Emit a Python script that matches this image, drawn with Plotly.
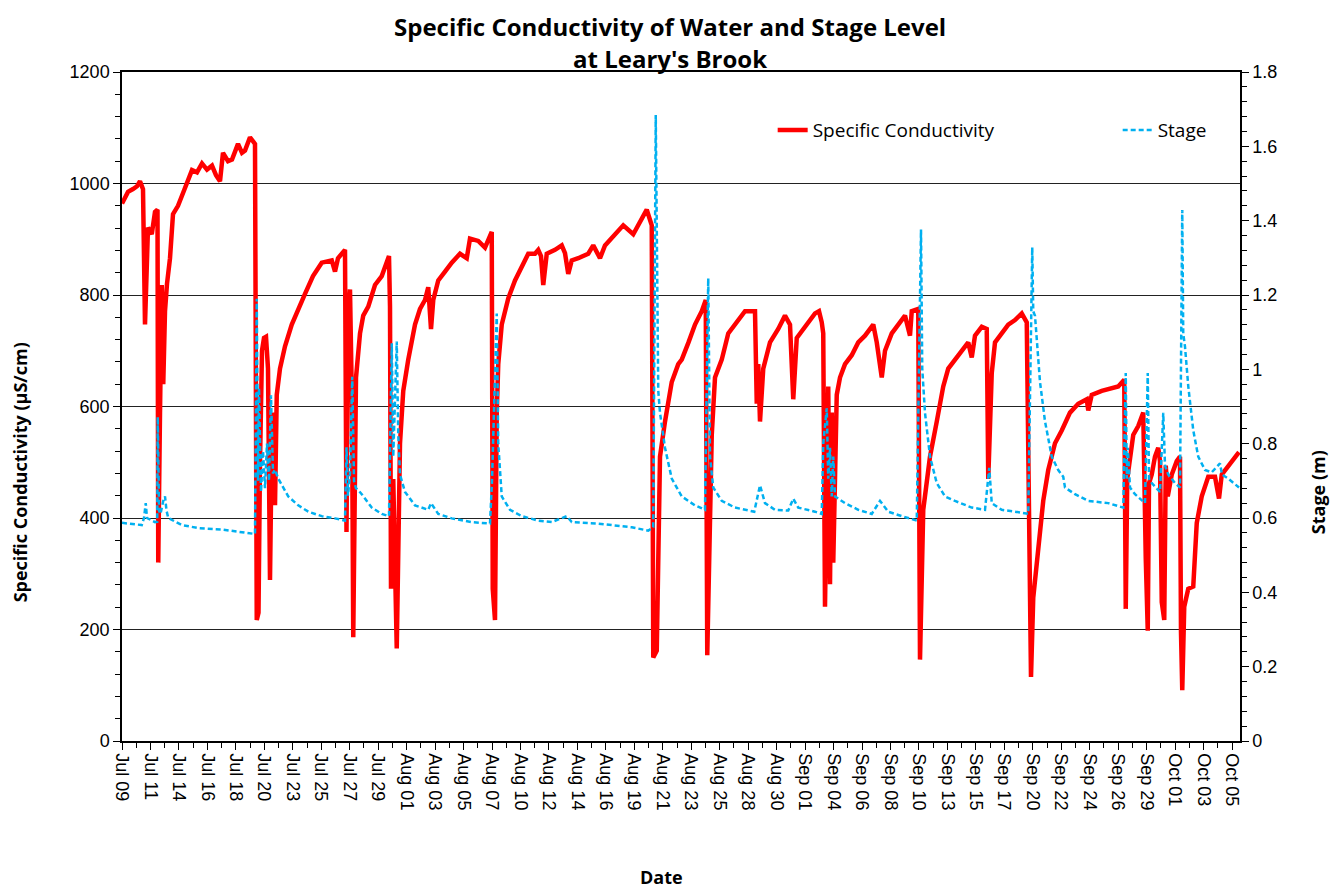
import plotly.graph_objects as go

# Time: elapsed days since Jul 09 00:00
TICK_LABELS = ["Jul 09", "Jul 11", "Jul 14", "Jul 16", "Jul 18", "Jul 20", "Jul 23", "Jul 25",
               "Jul 27", "Jul 29", "Aug 01", "Aug 03", "Aug 05", "Aug 07", "Aug 10", "Aug 12",
               "Aug 14", "Aug 16", "Aug 19", "Aug 21", "Aug 23", "Aug 25", "Aug 28", "Aug 30",
               "Sep 01", "Sep 04", "Sep 06", "Sep 08", "Sep 10", "Sep 13", "Sep 15", "Sep 17",
               "Sep 20", "Sep 22", "Sep 24", "Sep 26", "Sep 29", "Oct 01", "Oct 03", "Oct 05"]
TICK_START = 0.48
TICK_STEP = 2.277
X_END = 89.92

COND_T = [0.48, 0.96, 1.36, 1.68, 1.92, 2.16, 2.32, 2.56, 2.86, 3.12, 3.32, 3.38, 3.52, 3.66, 3.78,
          3.92, 4.08, 4.32, 4.56, 4.96, 5.52, 6.08, 6.48, 6.88, 7.28, 7.68, 8.0, 8.32, 8.56, 8.96,
          9.28, 9.76, 10.08, 10.32, 10.72, 11.12, 11.26, 11.4, 11.52, 11.68, 11.84, 12.0, 12.16,
          12.32, 12.46, 12.56, 12.72, 12.86, 13.12, 13.52, 14.06, 14.56, 15.12, 15.76, 16.46,
          17.26, 17.52, 17.76, 18.32, 18.44, 18.56, 18.72, 18.88, 18.98, 19.2, 19.52, 19.78,
          20.18, 20.72, 21.26, 21.66, 21.84, 21.92, 22.0, 22.18, 22.46, 22.72, 22.98, 23.38,
          23.92, 24.32, 24.72, 24.98, 25.2, 25.38, 25.78, 26.32, 26.86, 27.52, 28.06, 28.32,
          28.98, 29.52, 30.06, 30.14, 30.32, 30.46, 30.58, 30.86, 31.38, 31.92, 32.46, 32.98,
          33.52, 33.78, 34.0, 34.18, 34.46, 35.12, 35.66, 35.92, 36.18, 36.46, 36.98, 37.78,
          38.18, 38.72, 39.12, 39.78, 40.58, 41.38, 42.06, 42.46, 42.86, 42.98, 43.26, 43.52,
          43.92, 44.46, 44.98, 45.26, 45.8, 46.32, 46.86, 47.18, 47.3, 47.66, 47.92, 48.46,
          48.98, 49.52, 50.32, 51.12, 51.26, 51.38, 51.52, 51.78, 52.32, 52.98, 53.52, 53.92,
          54.04, 54.18, 54.46, 54.86, 55.38, 55.92, 56.24, 56.46, 56.58, 56.72, 56.98, 57.12,
          57.26, 57.38, 57.66, 57.92, 58.32, 58.86, 59.38, 59.92, 60.58, 60.86, 61.26, 61.52,
          62.06, 62.58, 63.12, 63.52, 63.66, 64.18, 64.32, 64.58, 65.12, 65.66, 66.18, 66.58,
          67.12, 67.66, 68.18, 68.46, 68.72, 69.26, 69.66, 69.78, 70.06, 70.32, 70.86, 71.38,
          71.92, 72.46, 72.86, 73.04, 73.2, 73.38, 73.78, 74.18, 74.58, 75.12, 75.66, 76.32,
          76.98, 77.66, 77.78, 78.06, 78.86, 79.66, 80.18, 80.66, 80.78, 80.9, 81.12, 81.38,
          81.78, 82.18, 82.38, 82.54, 82.64, 82.86, 83.12, 83.38, 83.52, 83.66, 83.86, 83.98,
          84.14, 84.46, 84.86, 85.12, 85.2, 85.3, 85.46, 85.78, 86.18, 86.46, 86.86, 87.38,
          87.92, 88.24, 88.46, 88.98, 89.52, 89.84]
COND_V = [964, 985, 990, 995, 1004, 990, 747, 921, 909, 949, 953, 320, 589, 818, 640,
          771, 820, 866, 945, 960, 992, 1024, 1020, 1036, 1025, 1032, 1015, 1004, 1055, 1040,
          1043, 1071, 1055, 1059, 1083, 1071, 217, 230, 500, 700, 723, 725, 668,
          289, 541, 589, 423, 621, 668, 708, 747, 771, 802, 834, 858,
          862, 842, 866, 881, 375, 760, 810, 600, 186, 652, 731, 763,
          779, 818, 834, 858, 870, 779, 273, 470, 166, 534, 628, 684,
          747, 775, 791, 814, 739, 791, 826, 842, 858, 874, 866, 901,
          897, 885, 913, 273, 217, 589, 676, 747, 794, 826, 850, 874,
          874, 881, 870, 818, 874, 881, 889, 875, 838, 862, 866, 874,
          889, 866, 889, 905, 925, 909, 937, 953, 925, 150, 162, 510,
          573, 644, 676, 684, 715, 747, 771, 791, 154, 549, 652, 684,
          731, 747, 771, 771, 605, 676, 573, 668, 715, 739, 763, 747,
          700, 613, 723, 735, 751, 767, 771, 751, 731, 241, 636, 281,
          589, 320, 621, 652, 676, 692, 715, 727, 747, 715, 652, 700,
          731, 747, 763, 727, 771, 775, 146, 415, 510, 573, 636, 668,
          684, 700, 715, 688, 727, 743, 739, 470, 660, 715, 731, 747,
          755, 767, 751, 391, 115, 257, 352, 431, 486, 534, 557, 589,
          605, 613, 593, 621, 628, 632, 636, 648, 237, 470, 510, 549,
          565, 589, 328, 198, 462, 478, 510, 526, 502, 249, 217, 494,
          439, 478, 502, 510, 194, 91, 241, 273, 277, 391, 439, 474,
          474, 435, 478, 494, 510, 518]

STAGE_T = [0.48, 1.52, 2.06, 2.24, 2.38, 2.48, 3.12, 3.3, 3.34, 3.44, 3.56, 3.78, 3.92, 4.04, 4.18,
           5.26, 6.58, 8.46, 10.06, 11.12, 11.26, 11.36, 11.44, 11.52, 11.6, 11.76, 11.92, 12.08,
           12.24, 12.4, 12.56, 12.72, 12.98, 13.78, 14.58, 15.38, 16.46, 17.52, 18.32, 18.44,
           18.56, 18.72, 18.9, 19.04, 19.2, 19.36, 19.66, 20.46, 21.26, 21.84, 22.06, 22.18,
           22.46, 22.58, 22.72, 23.12, 23.92, 24.98, 25.2, 25.78, 26.86, 28.46, 29.92, 30.08,
           30.24, 30.46, 30.58, 30.72, 30.86, 31.52, 32.46, 33.78, 34.86, 36.06, 36.46, 38.58,
           39.66, 41.26, 42.58, 42.98, 43.18, 43.38, 43.52, 43.92, 44.46, 45.26, 46.32, 47.12,
           47.38, 47.52, 47.78, 48.46, 49.52, 51.06, 51.52, 51.92, 52.72, 53.78, 54.18, 54.58,
           55.92, 56.46, 56.58, 56.86, 56.98, 57.12, 57.26, 57.38, 57.52, 58.32, 59.38, 60.46,
           61.12, 61.78, 62.86, 64.06, 64.4, 64.5, 64.72, 65.12, 65.66, 66.32, 67.12, 68.46,
           69.52, 69.86, 70.06, 70.86, 71.92, 72.98, 73.3, 73.38, 73.52, 73.92, 74.32, 74.86,
           75.38, 75.78, 75.92, 76.72, 77.78, 79.38, 80.58, 80.78, 80.86, 80.94, 81.12, 81.52,
           82.32, 82.54, 82.64, 82.86, 83.52, 83.78, 83.92, 84.18, 84.72, 85.12, 85.3, 85.38,
           85.52, 85.78, 86.18, 86.58, 87.12, 87.66, 88.32, 88.48, 88.98, 89.84]
STAGE_V = [0.587, 0.583, 0.581, 0.60, 0.640, 0.60, 0.589, 0.59, 0.872, 0.62, 0.611, 0.646, 0.658, 0.62, 0.60,
           0.581, 0.573, 0.569, 0.561, 0.557, 1.19, 0.70, 0.95, 0.75, 0.67, 0.78, 0.68, 0.80,
           0.70, 0.93, 0.72, 0.73, 0.706, 0.658, 0.634, 0.617, 0.605, 0.599, 0.593, 0.79,
           0.66, 0.72, 0.98, 0.70, 0.68, 0.676, 0.664, 0.628, 0.611, 0.605, 1.07, 0.765,
           1.075, 0.824, 0.717, 0.67, 0.634, 0.622, 0.64, 0.611, 0.599, 0.589, 0.585, 0.70,
           0.90, 1.15, 0.80, 0.74, 0.658, 0.622, 0.605, 0.593, 0.589, 0.605, 0.589, 0.585,
           0.581, 0.575, 0.566, 0.575, 1.684, 0.943, 0.883, 0.789, 0.706, 0.658, 0.634, 0.622,
           1.245, 0.765, 0.682, 0.646, 0.628, 0.617, 0.688, 0.64, 0.622, 0.62, 0.652, 0.628,
           0.617, 0.611, 0.80, 0.895, 0.706, 0.789, 0.658, 0.765, 0.658, 0.64, 0.622, 0.611,
           0.646, 0.617, 0.605, 0.593, 1.376, 1.002, 0.883, 0.765, 0.694, 0.658, 0.646, 0.628,
           0.622, 0.735, 0.64, 0.622, 0.617, 0.611, 1.328, 1.156, 1.144, 0.966, 0.86, 0.765,
           0.729, 0.711, 0.682, 0.664, 0.646, 0.64, 0.628, 0.99, 0.706, 0.789, 0.682, 0.664,
           0.64, 0.99, 0.706, 0.694, 0.67, 0.883, 0.741, 0.717, 0.694, 0.682, 1.429, 1.097,
           1.061, 0.955, 0.836, 0.765, 0.729, 0.723, 0.747, 0.717, 0.706, 0.682]

FONT = "Liberation Sans, Arial, sans-serif"
TITLE_FONT = "Open Sans, Lato, sans-serif"

fig = go.Figure()
fig.add_trace(go.Scatter(x=COND_T, y=COND_V, name="Specific Conductivity", mode="lines",
                         line=dict(color="#FF0000", width=4.5), yaxis="y"))
fig.add_trace(go.Scatter(x=STAGE_T, y=STAGE_V, name="Stage", mode="lines",
                         line=dict(color="#00B0F0", width=2.5, dash="5px,3px"), yaxis="y2"))

tickvals = [TICK_START + i * TICK_STEP for i in range(len(TICK_LABELS))]

fig.update_layout(
    width=1334, height=880,
    margin=dict(l=114, r=102, t=64, b=147, autoexpand=False),
    paper_bgcolor="white", plot_bgcolor="white",
    font=dict(family=FONT, size=18, color="black"),
    showlegend=True,
    legend=dict(orientation="h", x=0.582, y=0.913, xanchor="left", yanchor="middle",
                bgcolor="rgba(0,0,0,0)", font=dict(size=19, family=TITLE_FONT), entrywidth=300),
    xaxis=dict(range=[TICK_START, X_END], tickmode="array", tickvals=tickvals, ticktext=TICK_LABELS,
               tickangle=90, tickfont=dict(size=18), showgrid=False, zeroline=False,
               showline=True, mirror=True, linecolor="black", linewidth=1.5, ticks="outside",
               ticklen=7, tickcolor="black",
               minor=dict(tick0=TICK_START + TICK_STEP / 2, dtick=TICK_STEP, ticks="outside",
                          ticklen=5, tickcolor="black")),
    yaxis=dict(range=[0, 1200], dtick=200, showgrid=True, gridcolor="#222", gridwidth=1,
               zeroline=False, showline=True, linecolor="black", linewidth=1.5,
               ticks="outside", ticklen=7, tickcolor="black", tickfont=dict(size=18),
               minor=dict(dtick=40, ticks="outside", ticklen=5, tickcolor="black", showgrid=False)),
    yaxis2=dict(range=[0, 1.8], dtick=0.2, overlaying="y", side="right", showgrid=False,
                zeroline=False, showline=True, linecolor="black", linewidth=1.5,
                ticks="outside", ticklen=7, tickcolor="black", tickfont=dict(size=18),
                minor=dict(dtick=0.04, ticks="outside", ticklen=5, tickcolor="black")),
)

ann = [
    dict(text="<b>Specific Conductivity of Water and Stage Level</b>", x=0.49, y=1.0685,
         font=dict(size=24, family=TITLE_FONT)),
    dict(text="<b>at Leary's Brook</b>", x=0.49, y=1.0209, font=dict(size=24, family=TITLE_FONT)),
    dict(text="<b>Specific Conductivity (µS/cm)</b>", x=-0.091, y=0.402, textangle=-90,
         font=dict(size=18, family=TITLE_FONT)),
    dict(text="<b>Stage (m)</b>", x=1.0698, y=0.372, textangle=-90,
         font=dict(size=18, family=TITLE_FONT)),
    dict(text="<b>Date</b>", x=0.483, y=-0.2035, font=dict(size=18, family=TITLE_FONT)),
]
for a in ann:
    fig.add_annotation(xref="paper", yref="paper", xanchor="center", yanchor="middle",
                       showarrow=False, **a)

fig.write_html("out.html")
